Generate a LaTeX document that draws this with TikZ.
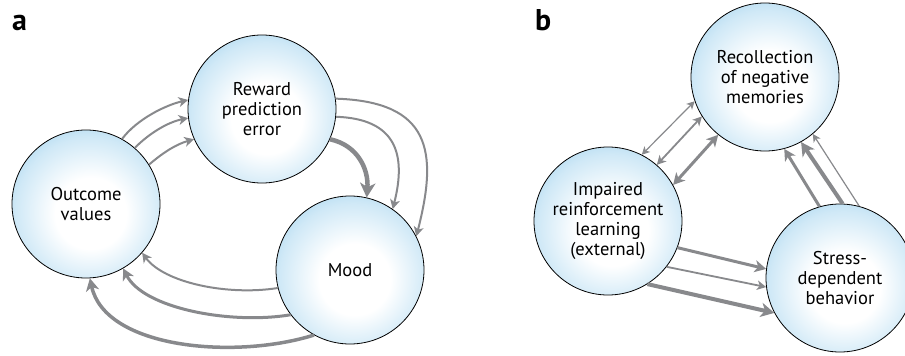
\documentclass[tikz,border=0pt]{standalone}
\usepackage{fontspec}
\setmainfont{PT Sans}
\usepackage{xcolor}
\usepackage{tikz}
\usetikzlibrary{arrows.meta, positioning}

\definecolor{bubbleblue}{RGB}{160,210,238}
\definecolor{linkgray}{RGB}{136,137,140}
\pgfdeclareradialshading{bubbleshade}{\pgfpoint{2bp}{-4bp}}{%
  color(0bp)=(white); color(12bp)=(white); color(25bp)=(bubbleblue!50); color(34bp)=(bubbleblue); color(60bp)=(bubbleblue)}

\begin{document}
\begin{tikzpicture}[
    x=1pt, y=-1pt,
    font=\fontsize{18.5}{20}\selectfont,
    >={Stealth[length=5.5pt 2, width=5.5pt 2.2, inset=1.5pt 0.6]},
    bubble/.style={circle, draw=black, line width=0.8pt, minimum size=148pt, inner sep=0pt, align=center, shading=bubbleshade},
    link/.style={draw=linkgray, line width=#1},
    panel/.style={font=\fontsize{30}{30}\selectfont\bfseries, anchor=base west, inner sep=0pt},
]
    \useasboundingbox (0,0) rectangle (905,356);

    \node[panel] (lbla) at (12,30) {a};
    \node[panel] (lblb) at (535,30) {b};

    \node[bubble] (outcome) at (86,204) {Outcome\\values};
    \node[bubble] (rpe) at (262,109) {Reward\\prediction\\error};
    \node[bubble] (mood) at (350,270) {Mood};

    \node[bubble] (recall) at (765,77) {Recollection\\of negative\\memories};
    \node[bubble] (impaired) at (608,221) {Impaired\\reinforcement\\learning\\(external)};
    \node[bubble] (stress) at (840,278) {Stress-\\dependent\\behavior};

    % panel a
    \draw[link=2pt, ->] (outcome.61) .. controls +(15,-20) and +(-22,5) .. (rpe.173);
    \draw[link=2pt, ->] (outcome.49) .. controls +(15,-15) and +(-20,4) .. (rpe.187);
    \draw[link=2pt, ->] (outcome.32) .. controls +(14,-12) and +(-18,5) .. (rpe.204);

    \draw[link=4.5pt, ->] (rpe.-24) .. controls +(28,6) and +(2,-28) .. (mood.77);
    \draw[link=2pt, ->] (rpe.-6) .. controls +(60,2) and +(14,-55) .. (mood.55);
    \draw[link=2pt, ->] (rpe.8) .. controls +(95,3) and +(22,-85) .. (mood.27);

    \draw[link=2pt, ->] (mood.194) .. controls +(-50,8) and +(22,30) .. (outcome.319);
    \draw[link=3pt, ->] (mood.217) .. controls +(-60,10) and +(20,40) .. (outcome.300);
    \draw[link=3.5pt, ->] (mood.241) .. controls +(-80,25) and +(15,70) .. (outcome.273);

    % panel b
    \draw[link=1.2pt, <->] (impaired.63) -- (recall.199);
    \draw[link=1.8pt, <->] (impaired.49) -- (recall.212);
    \draw[link=3pt, <->] (impaired.29) -- (recall.231);

    \draw[link=3pt, ->] (stress.106) -- (recall.-75);
    \draw[link=4pt, ->] (stress.88) -- (recall.-61);
    \draw[link=1.2pt, ->] (stress.75) -- (recall.-50);

    \draw[link=3pt, ->] (impaired.-21) -- (stress.173);
    \draw[link=1.8pt, ->] (impaired.-38) -- (stress.187);
    \draw[link=4pt, ->] (impaired.-58) -- (stress.208);
\end{tikzpicture}
\end{document}
